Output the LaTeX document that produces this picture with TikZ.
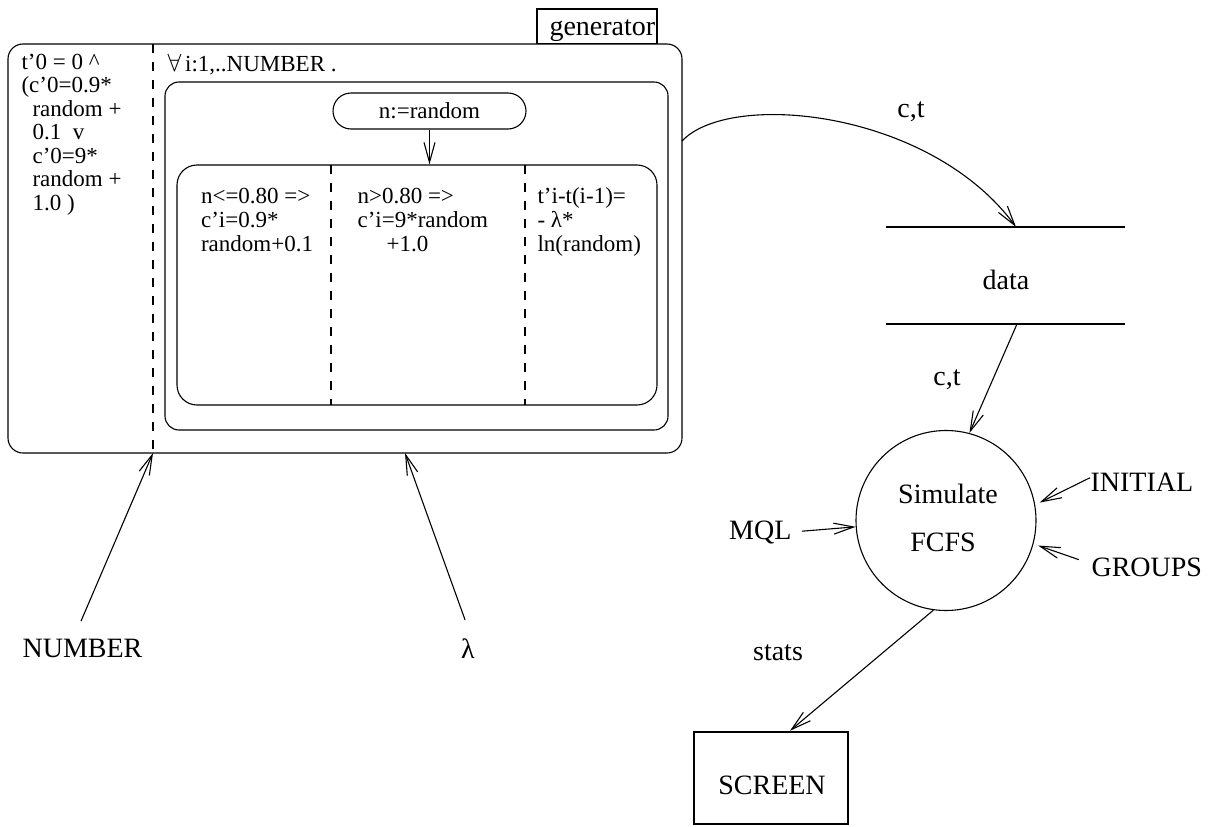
\documentclass[tikz,border=0pt]{standalone}
\usepackage{fontspec}
\setmainfont{Liberation Serif}
\usetikzlibrary{arrows.meta}
\begin{document}
\begin{tikzpicture}[x=1pt,y=-1pt,
  line width=1.1pt,
  arr/.style={-{Straight Barb[length=20pt,width=11pt,line width=1.1pt]}},
  big/.style={font=\fontsize{28}{30}\selectfont},
  lbl/.style={big, inner sep=0pt, anchor=base},
  small/.style={font=\fontsize{23}{23.5}\selectfont, inner sep=0pt, align=left, anchor=base west},
  colt/.style={font=\fontsize{23}{24}\selectfont, inner sep=0pt, align=left, anchor=base west},
  sep/.style={dash pattern=on 9pt off 9pt},
  boxr/.style={draw, inner sep=0pt}
]
\useasboundingbox (0,0) rectangle (1208,827);

% ---------- generator process ----------
\node[boxr, minimum width=120pt, minimum height=35pt] (genbox) at (597,26.5) {};
\node[big, inner sep=0pt, anchor=base west] (gen) at (549,35) {generator};
\node[boxr, fill=white, rounded corners=15pt, minimum width=674pt, minimum height=409pt] (outer) at (345,248.5) {};

\coordinate (nfoot) at (153,453);
\coordinate (lfoot) at (405,453);
\draw[sep] (153,44) -- (nfoot);

% initial values (base anchor sits on the last line)
\node[small] (initv) at (21,210) {t'0 = 0 \textasciicircum\\(c'0=0.9*\\\hspace*{11pt}random +\\\hspace*{11pt}0.1\ \ v\\\hspace*{11pt}c'0=9*\\\hspace*{11pt}random +\\\hspace*{11pt}1.0 )};

% loop over all customers
\node[small] (forall) at (167,71) {{\fontsize{26}{26}\selectfont$\forall$}\,i:1,..NUMBER .};
\node[boxr, rounded corners=14pt, minimum width=503pt, minimum height=348pt] (loop) at (416.5,256) {};
\node[boxr, rounded corners=18pt, minimum width=193pt, minimum height=36pt,
      font=\fontsize{23}{24}\selectfont] (pick) at (429.5,111) {n:=random};
\node[boxr, rounded corners=20pt, minimum width=480pt, minimum height=240pt] (cases) at (417,285) {};
\draw[arr] (pick.south) -- (pick.south |- cases.north);
\draw[sep] (331,165) -- (331,405);
\draw[sep] (525,165) -- (525,405);

\node[colt] (low) at (200.5,251) {n<=0.80 =>\\c'i=0.9*\\random+0.1};
\node[colt] (high) at (357,251) {n>0.80 =>\\c'i=9*random\\\hspace*{29pt}+1.0};
\node[colt] (arrive) at (537,251) {t'i-t(i-1)=\\- λ*\\ln(random)};

% inputs of the generator
\node[lbl] (number) at (82.5,657) {NUMBER};
\node[lbl] (lam) at (468,658) {λ};
\draw[arr] ([xshift=-1.5pt,yshift=17pt]number.north) -- (nfoot);
\draw[arr] ([xshift=-3pt,yshift=18pt]lam.north) -- (lfoot);

% ---------- data store ----------
\coordinate (dtop) at (1016,227);
\coordinate (dbot) at (1017,324);
\draw (886,227) -- (1125,227);
\draw (886,324) -- (1125,324);
\node[lbl] (data) at (1006,289) {data};

\coordinate (gout) at (682,141);
\draw[arr] (gout) .. controls (730,90) and (930,110) .. (dtop);
\node[lbl] (ct1) at (911,117) {c,t};

% ---------- simulation ----------
\node[draw, circle, minimum size=180pt, inner sep=0pt] (sim) at (946,520.5) {};
\node[lbl] (simA) at (948,503) {Simulate};
\node[lbl] (simB) at (943,551) {FCFS};

\draw[arr] (dbot) -- (sim.75);
\node[lbl] (ct2) at (947,385) {c,t};

\node[big, inner sep=0pt, anchor=base east] (mql) at (792,539) {MQL};
\draw[arr, shorten <=10pt] (mql.east) -- (sim.184);

\node[big, inner sep=0pt, anchor=base west] (initial) at (1090,491) {INITIAL};
\draw[arr, shorten >=5pt] ([yshift=4pt]initial.west) -- (sim.10);

\node[big, inner sep=0pt, anchor=base west] (groups) at (1091,576) {GROUPS};
\draw[arr, shorten <=13pt, shorten >=5pt] ([yshift=3pt]groups.west) -- (sim.-15);

% ---------- output ----------
\node[draw, line width=2.5pt, minimum width=154pt, minimum height=92pt, inner sep=0pt] (screen) at (771,778) {};
\node[lbl] (screenl) at (772,794) {SCREEN};
\node[lbl] (stats) at (778,660) {stats};
\draw[arr] (sim.-98) -- ([xshift=19pt]screen.north);
\end{tikzpicture}
\end{document}
